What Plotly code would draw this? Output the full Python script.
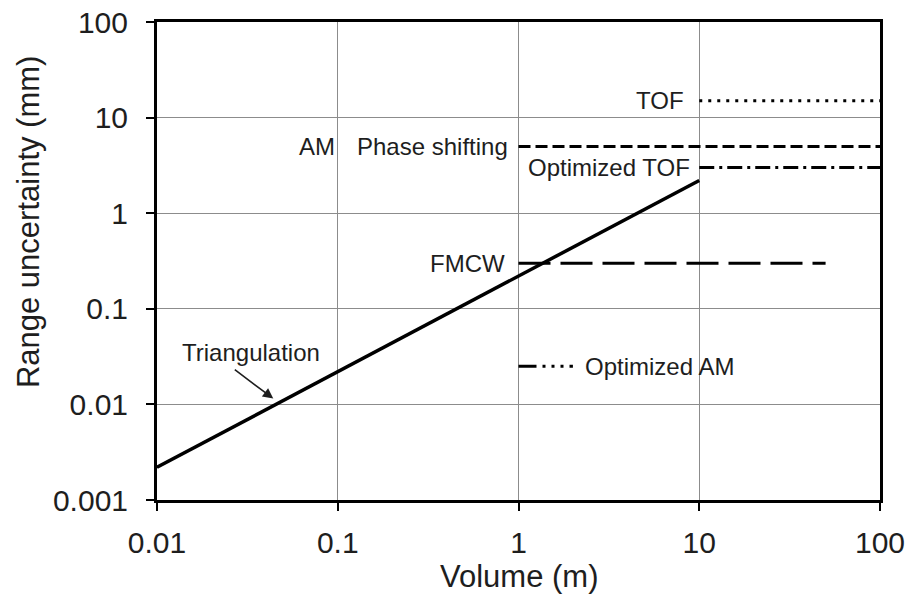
import numpy as np
import plotly.graph_objects as go

# ---- data ----
tri_x = [0.01, 10]
tri_y = [0.0022, 2.2]
tof_x = [10, 100]
tof_y = [15, 15]
phase_x = [1, 100]
phase_y = [5, 5]
opttof_x = [10, 100]
opttof_y = [3, 3]
fmcw_x = [1, 50]
fmcw_y = [0.3, 0.3]
optam_x = [1, 2]
optam_y = [0.025, 0.025]

x_ticks = [0.01, 0.1, 1, 10, 100]
x_ticktext = ["0.01", "0.1", "1", "10", "100"]
y_ticks = [0.001, 0.01, 0.1, 1, 10, 100]
y_ticktext = ["0.001", "0.01", "0.1", "1", "10", "100"]

FONT = "Liberation Sans, Arial, sans-serif"
TXT = "#1e1e1e"
fig = go.Figure()

def add_line(x, y, dash, width=3):
    fig.add_trace(go.Scatter(x=x, y=y, mode="lines",
                             line=dict(color="black", width=width, dash=dash),
                             showlegend=False, hoverinfo="skip"))

add_line(tri_x, tri_y, "solid", 3.5)
add_line(tof_x, tof_y, "3px,6px")
add_line(phase_x, phase_y, "12px,5px")
add_line(opttof_x, opttof_y, "15px,5px,3px,5px")
add_line(fmcw_x, fmcw_y, "32px,10px")
add_line(optam_x, optam_y, "18px,6px,3px,6px,3px,6px,3px,6px")

ann_font = dict(family=FONT, size=24, color=TXT)
L = np.log10

def label(text, x, y, xanchor):
    fig.add_annotation(x=L(x), y=L(y), xref="x", yref="y", text=text,
                       showarrow=False, xanchor=xanchor, yanchor="middle",
                       font=ann_font, borderpad=0, borderwidth=0)

label("TOF", 8.2, 15, "right")
label("AM", 0.097, 5, "right")
label("Phase shifting", 0.875, 5, "right")
label("Optimized TOF", 8.9, 3, "right")
label("FMCW", 0.842, 0.3, "right")
label("Optimized AM", 2.33, 0.025, "left")
label("Triangulation", 0.0331, 0.0353, "center")

# arrow pointing at the triangulation line
fig.add_annotation(x=L(0.044), y=L(0.0115), xref="x", yref="y", text="",
                   showarrow=True, ax=-40, ay=-30, arrowhead=2, arrowsize=1.3,
                   arrowwidth=1.6, arrowcolor=TXT)

# axis titles
fig.add_annotation(x=-0.178, y=0.582, xref="paper", yref="paper",
                   xanchor="center", yanchor="middle",
                   text="Range uncertainty (mm)", textangle=-90, showarrow=False,
                   font=dict(family=FONT, size=31, color=TXT))
fig.add_annotation(x=0.5, y=-0.161, xref="paper", yref="paper",
                   xanchor="center", yanchor="middle",
                   text="Volume (m)", showarrow=False,
                   font=dict(family=FONT, size=31, color=TXT))

axis_common = dict(
    type="log", showline=True, linewidth=3, linecolor="black", mirror=True,
    ticks="outside", ticklen=8, tickwidth=1.5, tickcolor="black",
    showgrid=True, gridcolor="#8c8c8c", gridwidth=1, zeroline=False,
    automargin=False,
    tickfont=dict(family=FONT, size=30, color=TXT),
)

fig.update_layout(
    width=913, height=602,
    margin=dict(l=157, r=33, t=22, b=102),
    paper_bgcolor="white", plot_bgcolor="white",
    xaxis=dict(axis_common, range=[-2, 2], tickvals=x_ticks, ticktext=x_ticktext,
               ticklabelstandoff=6),
    yaxis=dict(axis_common, range=[-3, 2], tickvals=y_ticks, ticktext=y_ticktext,
               ticklabelstandoff=12),
)

fig.write_html("out.html", config={"displayModeBar": False},
               post_script="document.body.style.margin='0';document.body.style.overflow='hidden';")
